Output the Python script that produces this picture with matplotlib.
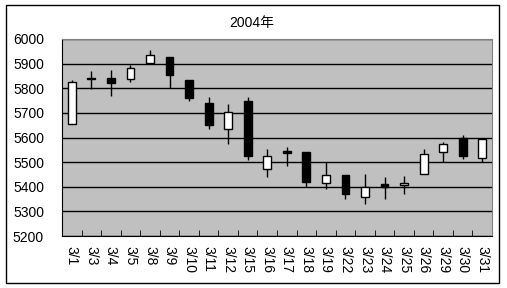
import matplotlib
matplotlib.use('Agg')
import matplotlib.pyplot as plt
import matplotlib.patches as mpatches
import numpy as np

plt.rcParams['font.family'] = ['Liberation Sans', 'Noto Sans CJK JP']

# ── Data ───────────────────────────────────────────────────────────────
dates = ['3/1', '3/3', '3/4', '3/5', '3/8', '3/9', '3/10', '3/11', '3/12', '3/15',
         '3/16', '3/17', '3/18', '3/19', '3/22', '3/23', '3/24', '3/25', '3/26',
         '3/29', '3/30', '3/31']
opens  = [5653, 5843, 5843, 5838, 5902, 5925, 5835, 5741, 5636, 5749,
          5473, 5547, 5540, 5414, 5446, 5357, 5413, 5408, 5453, 5543, 5599, 5518]
highs  = [5835, 5872, 5876, 5896, 5954, 5925, 5835, 5765, 5735, 5765,
          5552, 5560, 5540, 5499, 5446, 5450, 5438, 5442, 5552, 5581, 5610, 5594]
lows   = [5653, 5797, 5769, 5824, 5902, 5801, 5750, 5636, 5574, 5509,
          5439, 5484, 5401, 5390, 5349, 5328, 5349, 5369, 5453, 5499, 5513, 5499]
closes = [5825, 5838, 5820, 5883, 5936, 5853, 5762, 5652, 5702, 5525,
          5526, 5537, 5418, 5446, 5369, 5399, 5401, 5417, 5532, 5573, 5525, 5592]

W, H = 507, 288
FS = 10
fig = plt.figure(figsize=(W / 100, H / 100), dpi=100)
fig.patch.set_facecolor('white')

# outer chart border
fig.add_artist(mpatches.Rectangle((6 / W, 1 - 283 / H), 493 / W, 278 / H,
                                  transform=fig.transFigure, fill=False,
                                  edgecolor='black', lw=1.0))

# plot area: x 62..492, y 39..236 (pixels)
ax = fig.add_axes([62 / W, 1 - 236 / H, 430 / W, 197 / H])
ax.set_facecolor('#c0c0c0')

x = np.arange(len(dates))
o = np.array(opens)
c = np.array(closes)
up = c >= o

# wicks
ax.vlines(x, lows, highs, color='black', lw=1.0, zorder=3)
# bodies
bottoms = np.minimum(o, c)
heights = np.maximum(np.abs(c - o), 1.5)
ax.bar(x, heights, bottom=bottoms, width=0.4,
       color=np.where(up, 'white', 'black'), edgecolor='black',
       linewidth=1.0, zorder=4)

ax.set_xlim(-0.5, len(dates) - 0.5)
ax.set_ylim(5200, 6000)
ax.set_yticks(np.arange(5200, 6001, 100))
ax.yaxis.grid(True, color='black', lw=1.0)
ax.set_axisbelow(True)

ax.set_xticks(x)
ax.set_xticklabels(dates, rotation=270, fontsize=FS)
ax.set_xticks(np.arange(-0.5, len(dates), 1), minor=True)
ax.tick_params(axis='x', which='major', length=0, pad=7)
ax.tick_params(axis='x', which='minor', direction='in', length=4, color='black')
ax.tick_params(axis='y', length=0, pad=13, labelsize=FS)

for side in ['top', 'right']:
    ax.spines[side].set_color('#808080')
for side in ['left', 'bottom']:
    ax.spines[side].set_color('black')

fig.text(252 / W, 1 - 23 / H, '2004年', ha='center', va='center', fontsize=FS)

fig.savefig('out.png', dpi=100)
